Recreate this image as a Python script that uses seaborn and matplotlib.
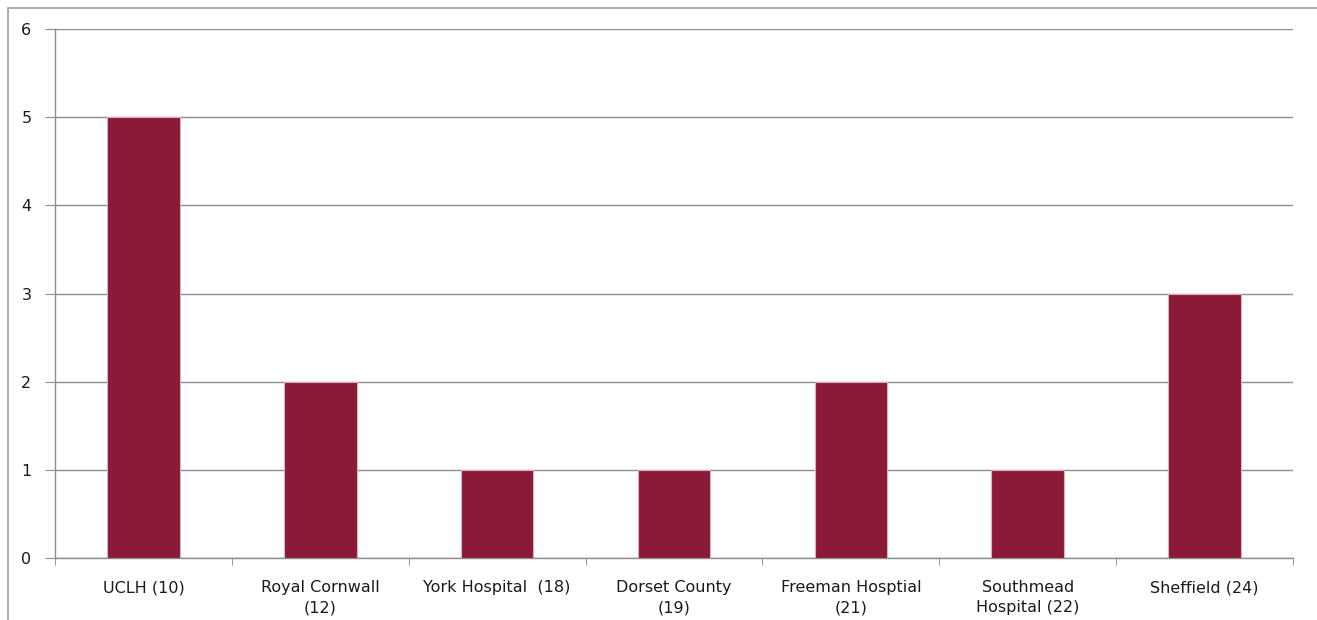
import pandas as pd
import matplotlib.pyplot as plt
import seaborn as sns
import numpy as np
from matplotlib.lines import Line2D

# Daten
hospitals = ["UCLH (10)", "Royal Cornwall\n(12)", "York Hospital  (18)", "Dorset County\n(19)",
             "Freeman Hosptial\n(21)", "Southmead\nHospital (22)", "Sheffield (24)"]
counts = [5, 2, 1, 1, 2, 1, 3]
y_ticks = [0, 1, 2, 3, 4, 5, 6]

df = pd.DataFrame({"hospital": hospitals, "count": counts})

sns.set_style("white")
plt.rcParams['font.family'] = ['DejaVu Sans']

fig = plt.figure(figsize=(13.17, 6.2), dpi=100)
ax = fig.add_axes([55/1317, 1 - 558/620, (1293 - 55)/1317, (558 - 29)/620])

sns.barplot(data=df, x="hospital", y="count", color="#8B1A37", width=0.41,
            edgecolor="#d8b0bb", linewidth=0.8, saturation=1, ax=ax, zorder=3)

ax.set_xlim(-0.5, len(hospitals) - 0.5)
ax.set_ylim(0, 6)
ax.set_yticks(y_ticks)
ax.yaxis.grid(True, color="#8c8c8c", linewidth=1, zorder=0)
ax.set_axisbelow(True)
ax.set_xlabel("")
ax.set_ylabel("")

# Tickmarks an den Kategoriegrenzen
ax.set_xticks(np.arange(len(hospitals) + 1) - 0.5, minor=True)
ax.tick_params(axis="x", which="major", length=0, pad=16, labelsize=11.5, labelcolor="#1a1a1a")
ax.tick_params(axis="x", which="minor", length=5, color="#8c8c8c", direction="out", bottom=True)
ax.tick_params(axis="y", length=7, color="#8c8c8c", direction="out", left=True, pad=10,
               labelsize=11.5, labelcolor="#1a1a1a")
for lab in ax.get_xticklabels():
    lab.set_linespacing(1.4)

for s in ["top", "right"]:
    ax.spines[s].set_visible(False)
for s in ["left", "bottom"]:
    ax.spines[s].set_color("#8c8c8c")
    ax.spines[s].set_linewidth(1)

# Rahmen (abgeschnittener Diagrammrahmen)
fig.add_artist(Line2D([8/1317, 1], [1 - 8/620, 1 - 8/620], color="#a0a0a0", linewidth=1.2))
fig.add_artist(Line2D([8/1317, 8/1317], [0, 1 - 8/620], color="#a0a0a0", linewidth=1.2))

fig.savefig("out.png", dpi=100)
